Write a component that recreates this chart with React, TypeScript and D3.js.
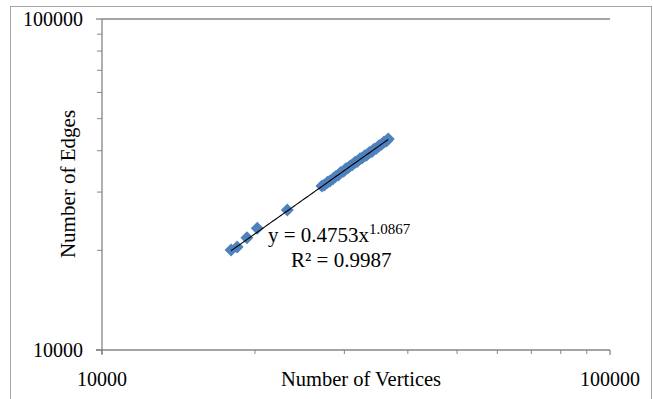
import React from "react";
import * as d3 from "d3";

// Data
const vertices = [
  17950, 18450, 19290, 20210, 23160,
  27100, 27400, 27800, 28100, 28500, 28800, 29200, 29500, 29900, 30200,
  30500, 30800, 31100, 31500, 31800, 32200, 32500, 32900, 33200, 33600,
  34000, 34300, 34700, 35100, 35500, 35900, 36300, 36600,
];
const edges = [
  20050, 20480, 21840, 23320, 26480,
  31300, 31500, 32100, 32400, 32900, 33400, 33800, 34400, 34700, 35300,
  35500, 36000, 36300, 36900, 37100, 37800, 38000, 38600, 38800, 39500,
  39800, 40400, 40700, 41400, 41800, 42500, 42800, 43400,
];
const xTickLabels = [10000, 100000];
const yTickLabels = [10000, 100000];
const minorTickValues = [20000, 30000, 40000, 50000, 60000, 70000, 80000, 90000];
const trendCoef = 0.4753;
const trendExp = 1.0867;
const rSquaredLabel = "0.9987";

const FONT = "'Liberation Serif', 'Times New Roman', serif";

export default function App() {
  const x = d3.scaleLog().domain([1e4, 1e5]).range([102, 610]);
  const y = d3.scaleLog().domain([1e4, 1e5]).range([350, 19]);

  const [xmin, xmax] = d3.extent(vertices) as [number, number];
  const trendXs = d3.range(0, 61).map((i) => xmin * Math.pow(xmax / xmin, i / 60));
  const trendPath = d3
    .line<number>()
    .x((v) => x(v))
    .y((v) => y(trendCoef * Math.pow(v, trendExp)))(trendXs);

  const diamond = d3.symbol().type(d3.symbolSquare).size(84)() as string;
  const axisColor = "#868686";

  return (
    <div style={{ position: "fixed", left: 0, top: 0 }}>
      <svg width={653} height={399} style={{ display: "block", background: "#fff" }}>
        <rect x={10.5} y={6.5} width={641} height={400} fill="#fff" stroke="#a6a6a6" strokeWidth={1} />

        {/* gridline at top */}
        <line x1={x(1e4)} x2={x(1e5)} y1={y(1e5)} y2={y(1e5)} stroke={axisColor} strokeWidth={1.3} />

        {/* y axis */}
        <line x1={x(1e4)} x2={x(1e4)} y1={y(1e5)} y2={y(1e4) + 4} stroke={axisColor} strokeWidth={1.3} />
        {yTickLabels.map((v) => (
          <line key={"ym" + v} x1={x(1e4) - 6} x2={x(1e4)} y1={y(v)} y2={y(v)} stroke={axisColor} strokeWidth={1.3} />
        ))}
        {minorTickValues.map((v) => (
          <line key={"yn" + v} x1={x(1e4) - 5} x2={x(1e4)} y1={y(v)} y2={y(v)} stroke={axisColor} strokeWidth={1} />
        ))}

        {/* x axis */}
        <line x1={x(1e4) - 6} x2={x(1e5)} y1={y(1e4)} y2={y(1e4)} stroke={axisColor} strokeWidth={1.3} />
        {xTickLabels.map((v) => (
          <line key={"xm" + v} x1={x(v)} x2={x(v)} y1={y(1e4)} y2={y(1e4) + 5} stroke={axisColor} strokeWidth={1.3} />
        ))}
        {minorTickValues.map((v) => (
          <line key={"xn" + v} x1={x(v)} x2={x(v)} y1={y(1e4)} y2={y(1e4) + 4} stroke={axisColor} strokeWidth={1} />
        ))}

        {/* tick labels */}
        {yTickLabels.map((v) => (
          <text key={"yl" + v} x={83} y={y(v) + 7} textAnchor="end" fontFamily={FONT} fontSize={20} fill="#000">
            {String(v)}
          </text>
        ))}
        {xTickLabels.map((v) => (
          <text key={"xl" + v} x={x(v)} y={386} textAnchor="middle" fontFamily={FONT} fontSize={20} fill="#000">
            {String(v)}
          </text>
        ))}

        {/* axis titles */}
        <text x={361} y={386} textAnchor="middle" fontFamily={FONT} fontSize={20.5} fill="#000">
          Number of Vertices
        </text>
        <text
          transform="translate(75,184) rotate(-90)"
          textAnchor="middle"
          fontFamily={FONT}
          fontSize={21}
          fill="#000"
        >
          Number of Edges
        </text>

        {/* points */}
        {vertices.map((v, i) => (
          <path
            key={"p" + i}
            d={diamond}
            transform={`translate(${x(v)},${y(edges[i])}) rotate(45)`}
            fill="#4F81BD"
          />
        ))}

        {/* trendline */}
        <path d={trendPath ?? ""} fill="none" stroke="#000" strokeWidth={1.1} />

        {/* equation */}
        <text x={268} y={242} fontFamily={FONT} fontSize={21} fill="#000">
          {`y = ${trendCoef}x`}
          <tspan dy={-8} fontSize={15}>{String(trendExp)}</tspan>
        </text>
        <text x={291} y={267} fontFamily={FONT} fontSize={21} fill="#000">
          {`R² = ${rSquaredLabel}`}
        </text>
      </svg>
    </div>
  );
}
